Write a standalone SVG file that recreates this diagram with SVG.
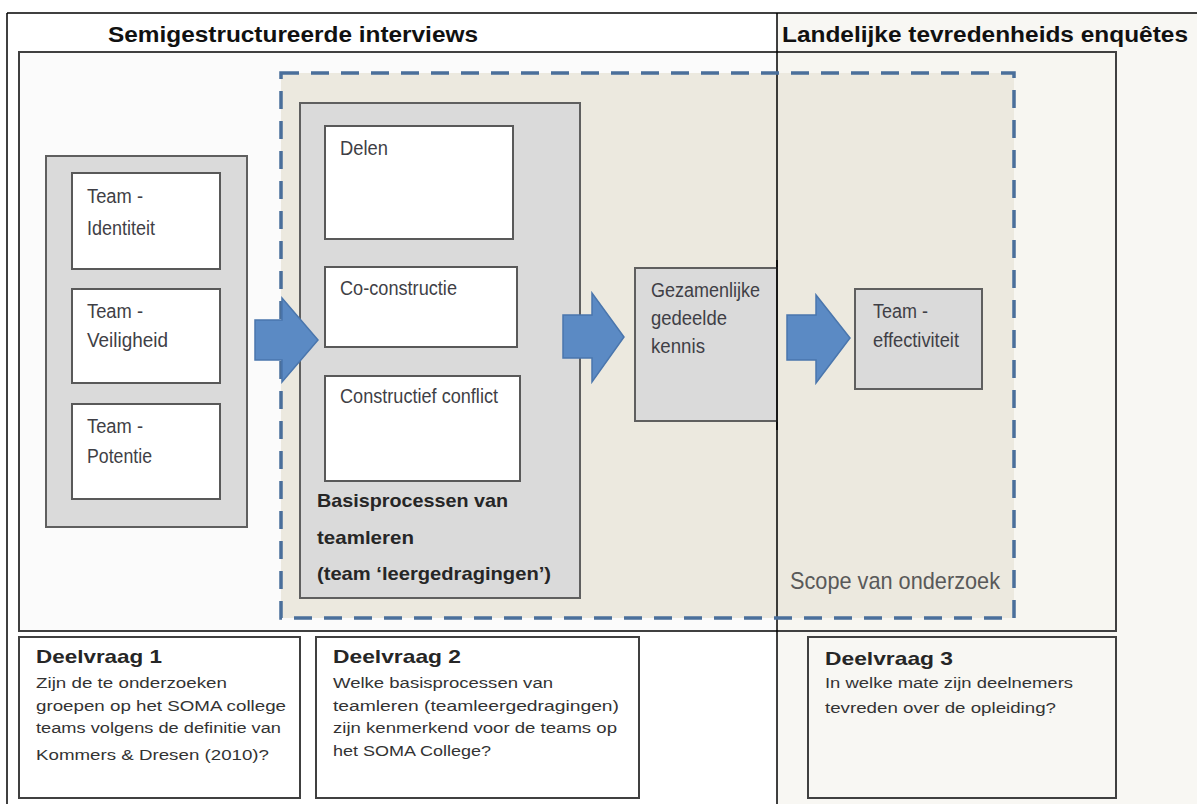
<svg xmlns="http://www.w3.org/2000/svg" width="1197" height="804" viewBox="0 0 1197 804">
<style>
  text { font-family: "Liberation Sans", Arial, sans-serif; }
  .hd { font-size: 22px; font-weight: bold; fill: #111; }
  .lbl { font-size: 20px; fill: #3f3f46; }
  .bold { font-size: 19px; font-weight: bold; fill: #262626; }
  .dq { font-size: 19px; font-weight: bold; fill: #262626; }
  .body { font-size: 15.5px; fill: #333; }
  .gray { fill: #dadada; stroke: #5f5f5f; stroke-width: 2; }
  .white { fill: #ffffff; stroke: #595959; stroke-width: 2; }
  .qbox { fill: #ffffff; stroke: #404040; stroke-width: 2; }
  .arrow { fill: #5b8ac4; stroke: #4a76ad; stroke-width: 1.5; stroke-linejoin: miter; }
</style>
<rect x="0" y="0" width="1197" height="804" fill="#ffffff"/>
<rect x="777" y="13" width="420" height="791" fill="#f8f7f3"/>
<g id="frame">
  <rect x="19" y="52" width="758" height="579" fill="#fbfbfb"/>
  <rect x="777" y="52" width="339" height="579" fill="#f7f6f1"/>
  <rect x="19" y="52" width="1097" height="579" fill="none" stroke="#404040" stroke-width="2"/>
  <text class="hd" x="108" y="42" textLength="370" lengthAdjust="spacingAndGlyphs">Semigestructureerde interviews</text>
  <text class="hd" x="782" y="42" textLength="406" lengthAdjust="spacingAndGlyphs">Landelijke tevredenheids  enquêtes</text>
</g>
<g id="scope">
  <rect x="281" y="73" width="733" height="545" fill="#ece9df"/>
</g>
<line x1="7" y1="13" x2="1197" y2="13" stroke="#000" stroke-width="1.5"/>
<line x1="7" y1="13" x2="7" y2="804" stroke="#000" stroke-width="1.5"/>
<line x1="777" y1="13" x2="777" y2="804" stroke="#000" stroke-width="1.5"/>
<g id="scope-border">
  <rect x="281" y="73" width="733" height="545" fill="none" stroke="#4a6f9b" stroke-width="3.5" stroke-dasharray="18 12"/>
  <text x="790" y="589" textLength="210" lengthAdjust="spacingAndGlyphs" style="font-size:24px;fill:#595959">Scope van onderzoek</text>
</g>
<g id="team-condities">
  <rect class="gray" x="46" y="156" width="201" height="371"/>
  <g id="team-identiteit">
    <rect class="white" x="72" y="173" width="148" height="96"/>
    <text class="lbl" x="87" y="203" textLength="56" lengthAdjust="spacingAndGlyphs">Team -</text>
    <text class="lbl" x="87" y="235" textLength="68" lengthAdjust="spacingAndGlyphs">Identiteit</text>
  </g>
  <g id="team-veiligheid">
    <rect class="white" x="72" y="289" width="148" height="94"/>
    <text class="lbl" x="87" y="318" textLength="56" lengthAdjust="spacingAndGlyphs">Team -</text>
    <text class="lbl" x="87" y="347" textLength="81" lengthAdjust="spacingAndGlyphs">Veiligheid</text>
  </g>
  <g id="team-potentie">
    <rect class="white" x="72" y="404" width="148" height="95"/>
    <text class="lbl" x="87" y="433" textLength="56" lengthAdjust="spacingAndGlyphs">Team -</text>
    <text class="lbl" x="87" y="463" textLength="65" lengthAdjust="spacingAndGlyphs">Potentie</text>
  </g>
</g>
<g id="basisprocessen">
  <rect class="gray" x="300" y="103" width="280" height="495"/>
  <g id="delen">
    <rect class="white" x="325" y="126" width="188" height="113"/>
    <text class="lbl" x="340" y="155" textLength="48" lengthAdjust="spacingAndGlyphs">Delen</text>
  </g>
  <g id="co-constructie">
    <rect class="white" x="325" y="267" width="192" height="80"/>
    <text class="lbl" x="340" y="295" textLength="117" lengthAdjust="spacingAndGlyphs">Co-constructie</text>
  </g>
  <g id="constructief-conflict">
    <rect class="white" x="325" y="376" width="195" height="105"/>
    <text class="lbl" x="340" y="403" textLength="158" lengthAdjust="spacingAndGlyphs">Constructief conflict</text>
  </g>
  <text class="bold" x="317" y="507" textLength="191" lengthAdjust="spacingAndGlyphs">Basisprocessen van</text>
  <text class="bold" x="317" y="544" textLength="97" lengthAdjust="spacingAndGlyphs">teamleren</text>
  <text class="bold" x="317" y="580" textLength="234" lengthAdjust="spacingAndGlyphs">(team ‘leergedragingen’)</text>
</g>
<g id="gedeelde-kennis">
  <rect class="gray" x="635" y="268" width="142" height="153"/>
  <text class="lbl" x="651" y="297" textLength="109" lengthAdjust="spacingAndGlyphs">Gezamenlijke</text>
  <text class="lbl" x="651" y="325" textLength="76" lengthAdjust="spacingAndGlyphs">gedeelde</text>
  <text class="lbl" x="651" y="353" textLength="54" lengthAdjust="spacingAndGlyphs">kennis</text>
</g>
<line x1="777" y1="260" x2="777" y2="430" stroke="#000" stroke-width="1.5"/>
<g id="team-effectiviteit">
  <rect class="gray" x="855" y="289" width="127" height="100"/>
  <text class="lbl" x="873" y="318" textLength="55" lengthAdjust="spacingAndGlyphs">Team -</text>
  <text class="lbl" x="873" y="347" textLength="86" lengthAdjust="spacingAndGlyphs">effectiviteit</text>
</g>
<g id="connectors">
  <polygon class="arrow" points="255,320 282,320 282,298 318,340 282,382 282,360 255,360"/>
  <polygon class="arrow" points="563,315 592,315 592,293 624,337 592,382 592,358 563,358"/>
  <polygon class="arrow" points="787,315 816,315 816,295 850,338 816,383 816,360 787,360"/>
</g>
<g id="deelvraag-1">
  <rect class="qbox" x="19" y="637" width="281" height="161"/>
  <text class="dq" x="36" y="663" textLength="126" lengthAdjust="spacingAndGlyphs">Deelvraag 1</text>
  <text class="body" x="36" y="688" textLength="191" lengthAdjust="spacingAndGlyphs">Zijn de te onderzoeken</text>
  <text class="body" x="36" y="711" textLength="250" lengthAdjust="spacingAndGlyphs">groepen op het SOMA college</text>
  <text class="body" x="36" y="733" textLength="245" lengthAdjust="spacingAndGlyphs">teams volgens de definitie van</text>
  <text class="body" x="36" y="760" textLength="233" lengthAdjust="spacingAndGlyphs">Kommers &amp; Dresen (2010)?</text>
</g>
<g id="deelvraag-2">
  <rect class="qbox" x="316" y="637" width="323" height="161"/>
  <text class="dq" x="333" y="663" textLength="128" lengthAdjust="spacingAndGlyphs">Deelvraag 2</text>
  <text class="body" x="333" y="688" textLength="220" lengthAdjust="spacingAndGlyphs">Welke basisprocessen van</text>
  <text class="body" x="333" y="711" textLength="286" lengthAdjust="spacingAndGlyphs">teamleren (teamleergedragingen)</text>
  <text class="body" x="333" y="733" textLength="284" lengthAdjust="spacingAndGlyphs">zijn kenmerkend voor de teams op</text>
  <text class="body" x="333" y="756" textLength="158" lengthAdjust="spacingAndGlyphs">het SOMA College?</text>
</g>
<g id="deelvraag-3">
  <rect x="808" y="637" width="308" height="161" fill="#f8f7f3" stroke="#404040" stroke-width="2"/>
  <text class="dq" x="825" y="665" textLength="128" lengthAdjust="spacingAndGlyphs">Deelvraag 3</text>
  <text class="body" x="825" y="688" textLength="248" lengthAdjust="spacingAndGlyphs">In welke mate zijn deelnemers</text>
  <text class="body" x="825" y="713" textLength="231" lengthAdjust="spacingAndGlyphs">tevreden over de opleiding?</text>
</g>
</svg>
